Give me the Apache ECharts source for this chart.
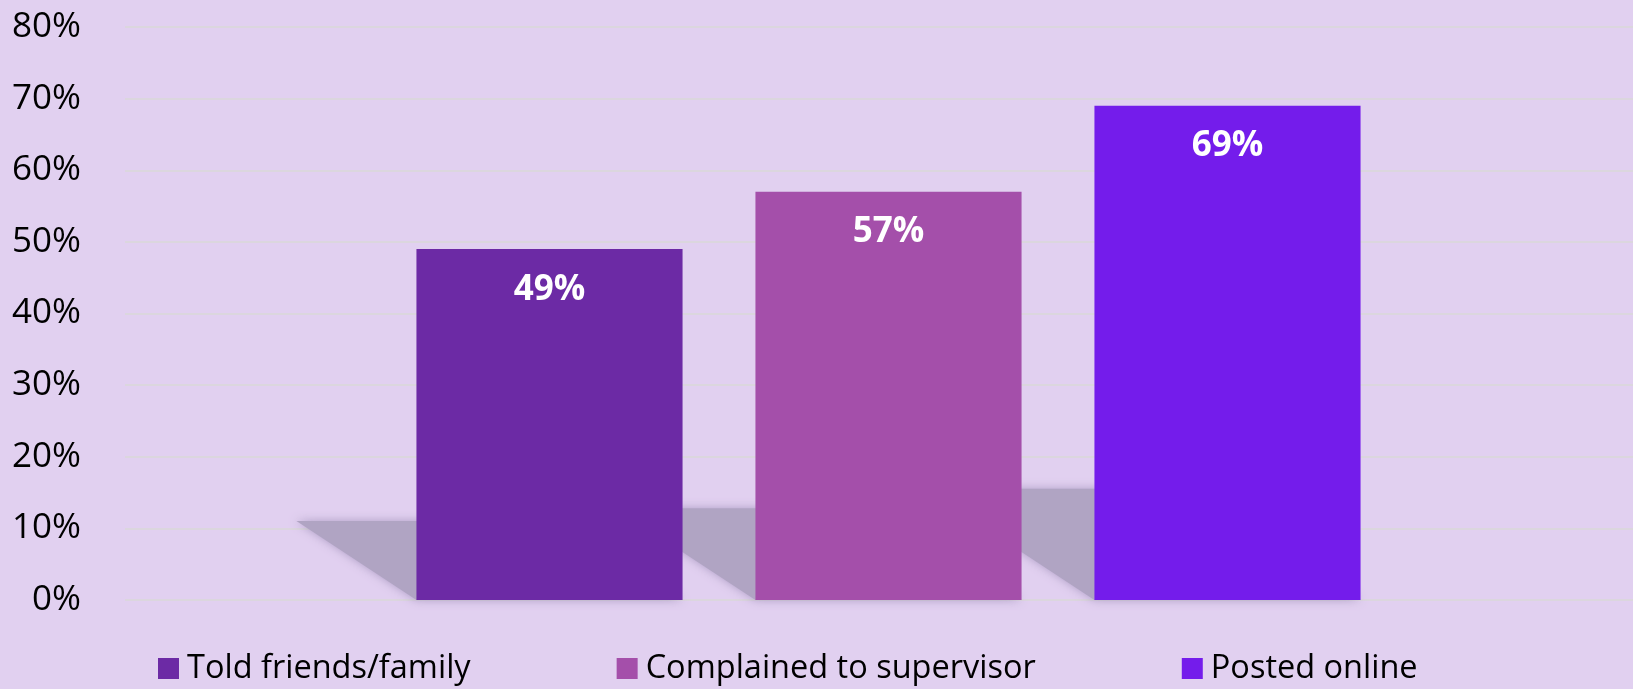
<!DOCTYPE html>
<html>
<head>
<meta charset="utf-8">
<script src="https://cdn.jsdelivr.net/npm/echarts@6/dist/echarts.min.js"></script>
<style>
html,body{margin:0;padding:0;background:#E1D0F0;}
#chart{width:1633px;height:689px;}
</style>
</head>
<body>
<div id="chart"></div>
<script>
const categories = ['Told friends/family', 'Complained to supervisor', 'Posted online'];
const values = [0.49, 0.57, 0.69];
const colors = ['#6C2AA5', '#A44FAA', '#741CEB'];
const yTicks = [0, 0.1, 0.2, 0.3, 0.4, 0.5, 0.6, 0.7, 0.8];

const chart = echarts.init(document.getElementById('chart'));
const FONT = 'Open Sans';
const BAR_FRAC = 0.785;

const barSeries = categories.map((name, i) => ({
  name: name,
  type: 'bar',
  xAxisIndex: 1,
  yAxisIndex: 1,
  stack: 'all',
  barWidth: (BAR_FRAC * 100) + '%',
  z: 3,
  itemStyle: { color: colors[i] },
  label: {
    show: true,
    position: 'insideTop',
    distance: 23,
    color: '#ffffff',
    fontFamily: FONT,
    fontWeight: 'bold',
    fontSize: 35,
    formatter: p => Math.round(p.value * 100) + '%'
  },
  data: categories.map((c, j) => j === i ? values[i] : '-')
}));

const shadowSeries = {
  type: 'custom',
  xAxisIndex: 1,
  yAxisIndex: 1,
  z: 1,
  silent: true,
  data: values.map((v, i) => [i, v]),
  renderItem: function (params, api) {
    const i = api.value(0), v = api.value(1);
    const base = api.coord([i, 0]);
    const top = api.coord([i, v]);
    const w = api.size([1, 0])[0] * BAR_FRAC;
    const h = base[1] - top[1];
    const sh = h * 0.225;
    const dx = sh * 1.52;
    const x0 = base[0] - w / 2, x1 = base[0] + w / 2, y0 = base[1];
    return {
      type: 'polygon',
      shape: { points: [[x0, y0], [x1, y0], [x1 - dx, y0 - sh], [x0 - dx, y0 - sh]] },
      style: { fill: '#B0A4C3', shadowBlur: 10, shadowColor: 'rgba(160,145,185,0.8)' }
    };
  }
};

chart.setOption({
  backgroundColor: '#E1D0F0',
  animation: false,
  grid: [
    { left: 125, right: 0, top: 27, bottom: 89 },
    { left: 380, right: 236, top: 27, bottom: 89 }
  ],
  xAxis: [
    { type: 'category', gridIndex: 0, data: [''], show: false },
    { type: 'category', gridIndex: 1, data: categories, show: false }
  ],
  yAxis: [
    {
      type: 'value', gridIndex: 0, min: 0, max: 0.8, interval: 0.1,
      axisLine: { show: false }, axisTick: { show: false },
      splitLine: { show: true, lineStyle: { color: '#D8D8D8', width: 1.5 } },
      axisLabel: {
        color: '#000000', fontFamily: FONT, fontSize: 35, margin: 44,
        formatter: v => Math.round(v * 100) + '%'
      }
    },
    { type: 'value', gridIndex: 1, min: 0, max: 0.8, interval: 0.1, show: false, splitLine: { show: false } }
  ],
  legend: {
    data: categories,
    left: 158,
    top: 652,
    padding: 0,
    itemWidth: 21,
    itemHeight: 21,
    itemGap: 146,
    icon: 'rect',
    textStyle: { color: '#000000', fontFamily: FONT, fontSize: 32.5, padding: [0, 0, 0, 3] }
  },
  series: [shadowSeries].concat(barSeries)
});
</script>
</body>
</html>
